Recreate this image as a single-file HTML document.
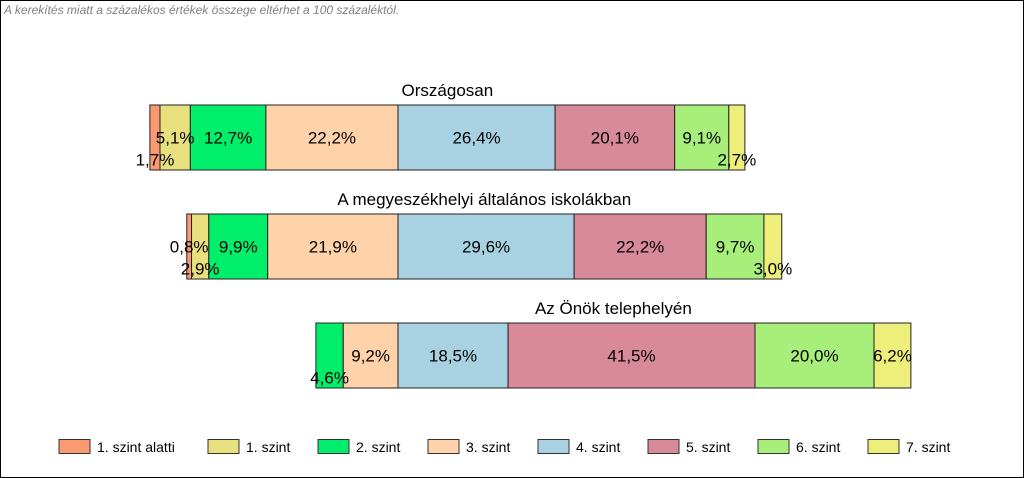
<!DOCTYPE html>
<html><head><meta charset="utf-8"><style>
html,body{margin:0;padding:0;background:#fff}
svg{display:block}
text{font-family:"Liberation Sans",Arial,sans-serif}
</style></head><body>
<svg id="c" width="1024" height="478">
<rect x="0.5" y="0.5" width="1023" height="477" fill="#fff" stroke="#000"/>
<text x="4" y="14" font-size="12" font-style="italic" fill="#808080">A kerekítés miatt a  százalékos értékek összege eltérhet a 100 százaléktól.</text>
<g id="bars"></g><g id="labels"></g><g id="legend"></g>
</svg>
<script>
const groups=["Országosan","A megyeszékhelyi általános iskolákban","Az Önök telephelyén"];
const categories=["1. szint alatti","1. szint","2. szint","3. szint","4. szint","5. szint","6. szint","7. szint"];
const row0=[1.7,5.1,12.7,22.2,26.4,20.1,9.1,2.7];
const row1=[0.8,2.9,9.9,21.9,29.6,22.2,9.7,3.0];
const row2=[0,0,4.6,9.2,18.5,41.5,20.0,6.2];
const rows=[row0,row1,row2];
const lowered=[[1,0,0,0,0,0,0,1],[0,1,0,0,0,0,0,1],[0,0,1,0,0,0,0,0]];
const colors=["#f99a72","#e8e07e","#00ee6a","#ffd2aa","#a8d2e2","#d8899a","#a8ee7a","#eeee7a"];
const NS="http://www.w3.org/2000/svg";
const center=398, scale=5.95;
const x=v=>center+v*scale;
const rowTop=[105,214,323], barH=65;
const bars=document.getElementById('bars');
const labels=document.getElementById('labels');
function mk(tag,attrs,parent){const e=document.createElementNS(NS,tag);for(const k in attrs)e.setAttribute(k,attrs[k]);parent.appendChild(e);return e;}
rows.forEach((vals,r)=>{
  const g=mk('g',{},bars);
  
  
  let start=-(vals[0]+vals[1]+vals[2]+vals[3]);
  const t=mk('text',{x:x(start+50),y:rowTop[r]-9,'font-size':17,'text-anchor':'middle'},labels);
  t.textContent=groups[r];
  
  
  let cum=start;
  vals.forEach((v,i)=>{
    const x0=x(cum),x1=x(cum+v);cum+=v;
    if(v<=0)return;
    const rc=mk('rect',{x:x0,y:rowTop[r],width:x1-x0,height:barH,fill:colors[i],stroke:'#222','stroke-width':1},g);
    
    
    const ly=rowTop[r]+barH/2+6+(lowered[r][i]?22:0);
    const lt=mk('text',{x:(x0+x1)/2,y:ly,'font-size':17,'text-anchor':'middle'},labels);
    lt.textContent=v.toFixed(1).replace('.',',')+'%';
    
    
  });
});
const leg=document.getElementById('legend');
const legX=[59,208,318,428,538,648,758,868];
categories.forEach((c,i)=>{
  const g=mk('g',{},leg);
  
  
  mk('rect',{x:legX[i],y:439.5,width:31,height:14,fill:colors[i],stroke:'#333'},g);
  const t=mk('text',{x:legX[i]+38,y:452,'font-size':14},g);
  t.textContent=c;
});
</script>
</body></html>
